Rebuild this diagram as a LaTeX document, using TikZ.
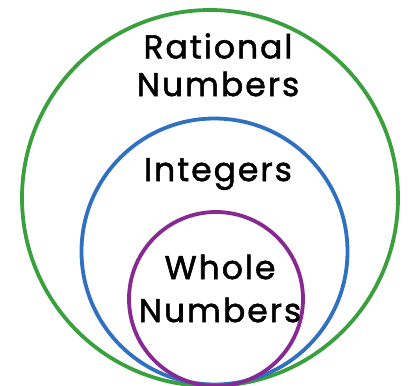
\documentclass[tikz,border=0pt]{standalone}
\usepackage{fontspec}
\setmainfont{Poppins}[LetterSpace=6,FakeBold=1.6]
\definecolor{ringgreen}{RGB}{58,160,62}
\definecolor{ringblue}{RGB}{48,112,192}
\definecolor{ringpurple}{RGB}{134,42,146}
\begin{document}
\begin{tikzpicture}[x=1pt,y=-1pt,
  ring/.style={line width=3.8pt},
  lbl/.style={font=\fontsize{33}{35}\selectfont, text=black, inner sep=0pt, align=center}]
\useasboundingbox (0,0) rectangle (408,386);
\fill[white] (0,0) rectangle (408,386);
\begin{scope}
\clip (0,0) rectangle (408,386);
\draw[ring, ringgreen] (210,198) circle (188);
\draw[ring, ringblue] (214.5,251.5) circle (133);
\draw[ring, ringpurple] (216,299) circle (87);
\end{scope}
\node[lbl] (rat) at (218,46) {Rational};
\node[lbl] (ratn) at (218,84) {Numbers};
\node[lbl] (int) at (218,174) {Integers};
\node[lbl] (who) at (220,267) {Whole};
\node[lbl] (whon) at (220,310) {Numbers};
\end{tikzpicture}
\end{document}
